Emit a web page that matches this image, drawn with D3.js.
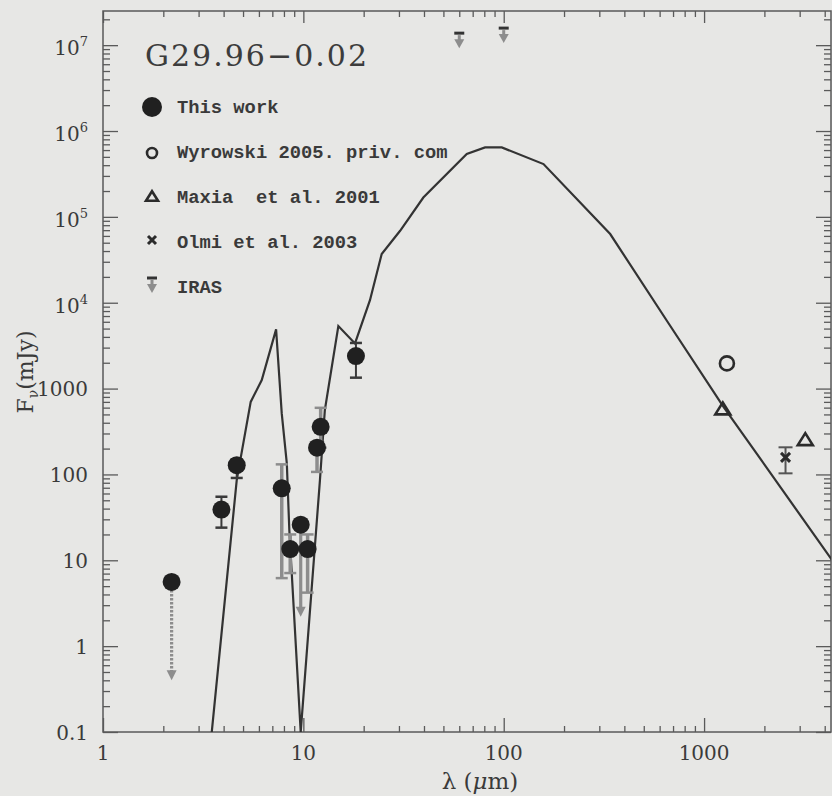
<!DOCTYPE html>
<html><head><meta charset="utf-8">
<script src="https://cdn.jsdelivr.net/npm/d3@7"></script>
<style>
html,body{margin:0;padding:0;background:#e7e7e5;}
svg{display:block;}
</style></head><body>
<svg id="chart" width="832" height="796"></svg>
<script>
// ---------------- DATA ----------------
const modelLambda = [3.49, 4.65, 5.46, 6.2, 7.31, 7.8, 8.27, 8.51, 9.7, 12.1, 12.8, 14.95, 18.1, 21.5, 24.6, 30.4, 39.7, 65.4, 80.7, 97.8, 158, 340, 652, 1250, 4360];
const modelFlux   = [0.1, 86, 700, 1256, 4890, 514, 134, 22.5, 0.1, 86, 562, 5350, 3360, 10700, 36900, 68900, 168000, 540000, 644000, 644000, 412000, 63100, 6170, 614, 10];

// "This work" photometry
const twLambda  = [2.2, 3.9, 4.65, 7.8, 8.6, 9.7, 10.5, 11.7, 12.2, 18.3];
const twFlux    = [5.6, 39, 128, 69, 13.5, 26, 13.5, 205, 359, 2390];
const twErrKind = ["limit", "err", "err", "gray", "gray", "glimit", "gray", "gray", "gray", "err"];
const twLow     = [0.40, 24, 91, 6.2, 7.1, 2.2, 4.2, 107, 205, 1340];
const twHigh    = [5.6, 55, 150, 131, 20, 26, 20, 205, 597, 3400];

const wyrLambda = [1300];
const wyrFlux   = [1965];
const maxiaLambda = [1240, 3200];
const maxiaFlux   = [588, 258];
const olmiLambda = [2550];
const olmiFlux   = [158];
const olmiLow    = [103];
const olmiHigh   = [207];
const irasLambda = [60, 100];
const irasLimit  = [1.38e7, 1.58e7];

const xTickValues = [1, 10, 100, 1000];
const xTickLabels = ["1", "10", "100", "1000"];
const yTickValues = [0.1, 1, 10, 100, 1000, 1e4, 1e5, 1e6, 1e7];
const yTickBase   = ["0.1", "1", "10", "100", "1000", "10", "10", "10", "10"];
const yTickExp    = ["", "", "", "", "", "4", "5", "6", "7"];

const legendLabels = ["This work", "Wyrowski 2005. priv. com", "Maxia  et al. 2001", "Olmi et al. 2003", "IRAS"];
const titleText = "G29.96\u22120.02";

// ---------------- DRAW ----------------
const svg = d3.select("#chart");
const L = 103, R = 831, T = 11, B = 732;
const x = d3.scaleLog().domain([1, 4300]).range([L, R]);
const y = d3.scaleLog().domain([0.1, 2.5e7]).range([B, T]);

const ink = "#2b2b2b", gray = "#8d8d8d", axisCol = "#5a5a5a";
const serif = "'DejaVu Serif', serif";
const mono = "'Liberation Mono', monospace";

function minors(lo, hi) {
  const out = [];
  for (let e = Math.floor(Math.log10(lo)) ; e <= Math.ceil(Math.log10(hi)); e++) {
    for (let m = 2; m <= 9; m++) { const v = m * Math.pow(10, e); if (v > lo && v < hi) out.push(v); }
  }
  return out;
}
const xMin = minors(1, 4300), yMin = minors(0.1, 2.5e7);
const xMaj = xTickValues, yMaj = yTickValues;

function axisGroup(gen, tx, ty) {
  const g = svg.append("g").attr("transform", `translate(${tx},${ty})`).call(gen);
  g.select(".domain").remove();
  g.selectAll("text").remove();
  g.selectAll("line").attr("stroke", axisCol).attr("stroke-width", 1.3);
  return g;
}
axisGroup(d3.axisBottom(x).tickValues(xMaj).tickSize(-14), 0, B);
axisGroup(d3.axisBottom(x).tickValues(xMin).tickSize(-6), 0, B);
axisGroup(d3.axisTop(x).tickValues(xMaj).tickSize(-12), 0, T);
axisGroup(d3.axisTop(x).tickValues(xMin).tickSize(-6), 0, T);
axisGroup(d3.axisLeft(y).tickValues(yMaj).tickSize(-15), L, 0);
axisGroup(d3.axisLeft(y).tickValues(yMin).tickSize(-7), L, 0);
axisGroup(d3.axisRight(y).tickValues(yMaj).tickSize(-15), R, 0);
axisGroup(d3.axisRight(y).tickValues(yMin).tickSize(-7), R, 0);

svg.append("rect").attr("x", L).attr("y", T).attr("width", R - L).attr("height", B - T)
  .attr("fill", "none").attr("stroke", axisCol).attr("stroke-width", 1.5);

svg.append("g").selectAll("text").data(xTickValues).join("text")
  .attr("x", d => x(d)).attr("y", 760).attr("text-anchor", "middle")
  .attr("font-family", serif).attr("font-size", 20).attr("fill", "#3a3a3a")
  .text((d, i) => xTickLabels[i]);

const yl = svg.append("g").selectAll("text").data(yTickValues).join("text")
  .attr("x", 88).attr("y", (d, i) => y(d) + (yTickExp[i] ? 10 : 7.5)).attr("text-anchor", "end")
  .attr("font-family", serif).attr("font-size", 20).attr("fill", "#3a3a3a");
yl.append("tspan").text((d, i) => yTickBase[i]);
yl.append("tspan").attr("dy", -9).attr("font-size", 13).text((d, i) => yTickExp[i]);

const xt = svg.append("text").attr("x", 480).attr("y", 789).attr("text-anchor", "middle")
  .attr("font-family", serif).attr("font-size", 23).attr("fill", "#3a3a3a");
xt.append("tspan").text("\u03bb (");
xt.append("tspan").attr("font-style", "italic").text("\u03bc");
xt.append("tspan").text("m)");

const yt = svg.append("text").attr("transform", "translate(33,372) rotate(-90)").attr("text-anchor", "middle")
  .attr("font-family", serif).attr("font-size", 22).attr("fill", "#3a3a3a");
yt.append("tspan").text("F");
yt.append("tspan").attr("dy", 5).attr("font-size", 14).text("\u03bd");
yt.append("tspan").attr("dy", -5).text("(mJy)");

svg.append("clipPath").attr("id", "plotclip").append("rect")
  .attr("x", L).attr("y", T).attr("width", R - L).attr("height", B - T);

const line = d3.line().x(d => x(d[0])).y(d => y(d[1]));
svg.append("path").datum(modelLambda.map((l, i) => [l, modelFlux[i]]))
  .attr("clip-path", "url(#plotclip)")
  .attr("d", line).attr("fill", "none").attr("stroke", "#333").attr("stroke-width", 2.2)
  .attr("stroke-linejoin", "miter");

const eg = svg.append("g");
twLambda.forEach((l, i) => {
  const cx = x(l), kind = twErrKind[i];
  if (kind === "err" || kind === "gray") {
    const col = kind === "err" ? "#3a3a3a" : gray, w = kind === "err" ? 2 : 3.5;
    eg.append("line").attr("x1", cx).attr("x2", cx).attr("y1", y(twLow[i])).attr("y2", y(twHigh[i]))
      .attr("stroke", col).attr("stroke-width", w);
    [twLow[i], twHigh[i]].forEach(v => eg.append("line").attr("x1", cx - 6).attr("x2", cx + 6)
      .attr("y1", y(v)).attr("y2", y(v)).attr("stroke", col).attr("stroke-width", 2.5));
  } else {
    const yTip = y(twLow[i]);
    eg.append("line").attr("x1", cx).attr("x2", cx).attr("y1", y(twFlux[i])).attr("y2", yTip - 8)
      .attr("stroke", gray).attr("stroke-width", 3.2)
      .attr("stroke-dasharray", kind === "limit" ? "2.5,1.5" : null);
    eg.append("path").attr("d", `M${cx - 5},${yTip - 10}L${cx + 5},${yTip - 10}L${cx},${yTip}Z`).attr("fill", gray);
  }
});

olmiLambda.forEach((l, i) => {
  const cx = x(l);
  eg.append("line").attr("x1", cx).attr("x2", cx).attr("y1", y(olmiLow[i])).attr("y2", y(olmiHigh[i]))
    .attr("stroke", "#555").attr("stroke-width", 2);
  [olmiLow[i], olmiHigh[i]].forEach(v => eg.append("line").attr("x1", cx - 7).attr("x2", cx + 7)
    .attr("y1", y(v)).attr("y2", y(v)).attr("stroke", "#555").attr("stroke-width", 2));
});

function filledCircle(g, cx, cy, r) { g.append("circle").attr("cx", cx).attr("cy", cy).attr("r", r).attr("fill", "#202020"); }
function openCircle(g, cx, cy, r) { g.append("circle").attr("cx", cx).attr("cy", cy).attr("r", r).attr("fill", "none").attr("stroke", ink).attr("stroke-width", 2.6); }
function tri(g, cx, cy, w) {
  const h = w * 0.8;
  g.append("path").attr("d", `M${cx - w / 2},${cy + h / 2}L${cx + w / 2},${cy + h / 2}L${cx},${cy - h / 2}Z`)
    .attr("fill", "none").attr("stroke", ink).attr("stroke-width", 2.6).attr("stroke-linejoin", "miter");
}
function cross(g, cx, cy, s) {
  g.append("path").attr("d", `M${cx - s},${cy - s}L${cx + s},${cy + s}M${cx - s},${cy + s}L${cx + s},${cy - s}`)
    .attr("stroke", ink).attr("stroke-width", 3);
}
function irasMark(g, cx, cy) {
  g.append("line").attr("x1", cx - 5).attr("x2", cx + 5).attr("y1", cy).attr("y2", cy).attr("stroke", "#333").attr("stroke-width", 3);
  g.append("line").attr("x1", cx).attr("x2", cx).attr("y1", cy + 2).attr("y2", cy + 8).attr("stroke", gray).attr("stroke-width", 3);
  g.append("path").attr("d", `M${cx - 5},${cy + 6}L${cx + 5},${cy + 6}L${cx},${cy + 15}Z`).attr("fill", gray);
}

const mg = svg.append("g");
twLambda.forEach((l, i) => filledCircle(mg, x(l), y(twFlux[i]), 9));
wyrLambda.forEach((l, i) => openCircle(mg, x(l), y(wyrFlux[i]), 7));
maxiaLambda.forEach((l, i) => tri(mg, x(l), y(maxiaFlux[i]), 15));
olmiLambda.forEach((l, i) => cross(mg, x(l), y(olmiFlux[i]), 4.5));
irasLambda.forEach((l, i) => irasMark(mg, x(l), y(irasLimit[i])));

svg.append("text").attr("x", 145).attr("y", 66).attr("font-family", serif).attr("font-size", 30)
  .attr("fill", "#3c3c3c").attr("textLength", 222).attr("lengthAdjust", "spacing").text(titleText);

const lg = svg.append("g");
const legBase = [113, 158, 203, 248, 293];
legendLabels.forEach((t, i) => {
  lg.append("text").attr("x", 177).attr("y", legBase[i]).attr("font-family", mono).attr("font-weight", "bold")
    .attr("font-size", 18.8).attr("fill", "#3a3a3a").attr("xml:space", "preserve").style("white-space", "pre").text(t);
});
filledCircle(lg, 152, 107, 10);
openCircle(lg, 152, 153, 5);
tri(lg, 152, 196, 12);
cross(lg, 152, 240, 4);
irasMark(lg, 152, 278);
</script>
</body></html>
